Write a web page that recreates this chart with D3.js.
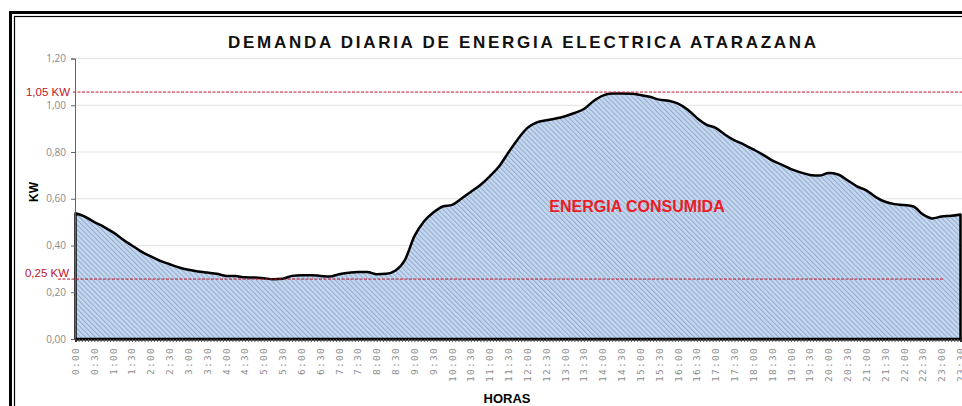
<!DOCTYPE html>
<html>
<head>
<meta charset="utf-8">
<script src="https://cdn.jsdelivr.net/npm/d3@7"></script>
<style>
  body { margin: 0; background: #fff; }
  svg { display: block; font-family: "Liberation Sans", Arial, sans-serif; }
</style>
</head>
<body>
<svg width="962" height="406"></svg>
<script>
// demanda cada 15 minutos, 0:00 -> 23:30 (kW)
const demand = [
    0.538, 0.524, 0.500, 0.480, 0.456, 0.427, 0.400, 0.374,
    0.353, 0.334, 0.320, 0.306, 0.296, 0.289, 0.284, 0.279,
    0.270, 0.269, 0.264, 0.263, 0.260, 0.256, 0.258, 0.270,
    0.273, 0.273, 0.270, 0.267, 0.277, 0.283, 0.287, 0.287,
    0.277, 0.279, 0.293, 0.339, 0.440, 0.503, 0.541, 0.567,
    0.574, 0.601, 0.630, 0.659, 0.696, 0.739, 0.799, 0.856,
    0.903, 0.927, 0.936, 0.943, 0.953, 0.967, 0.984, 1.017,
    1.041, 1.050, 1.050, 1.049, 1.044, 1.036, 1.024, 1.019,
    1.007, 0.982, 0.946, 0.917, 0.903, 0.874, 0.850, 0.832,
    0.811, 0.789, 0.764, 0.746, 0.727, 0.713, 0.702, 0.699,
    0.710, 0.704, 0.679, 0.653, 0.636, 0.607, 0.587, 0.577,
    0.573, 0.567, 0.533, 0.516, 0.524, 0.527, 0.533
];
const stepMinutes = 15;

// etiquetas del eje x cada 30 min
const hourLabels = d3.range(0, 1411, 30);
const minorTicks = d3.range(0, 1411, 5);
const yTicks = [0, 0.2, 0.4, 0.6, 0.8, 1.0, 1.2];

const refLines = [
    { value: 1.05, label: "1,05 KW" },
    { value: 0.25, label: "0,25 KW" }
];

const title = "DEMANDA DIARIA DE ENERGIA ELECTRICA ATARAZANA";

const svg = d3.select("svg");

// marco doble
svg.append("rect")
    .attr("x", 10.5).attr("y", 12.5)
    .attr("width", 980).attr("height", 420)
    .attr("fill", "none").attr("stroke", "#000").attr("stroke-width", 3);
svg.append("rect")
    .attr("x", 14.5).attr("y", 16.5)
    .attr("width", 980).attr("height", 420)
    .attr("fill", "none").attr("stroke", "#000").attr("stroke-width", 1.2);

const x = d3.scaleLinear().domain([0, 1410]).range([75.5, 960.5]);
const y = d3.scaleLinear().domain([0, 1.2]).range([339, 58.5]);

// relleno rayado
const defs = svg.append("defs");
const pat = defs.append("pattern")
    .attr("id", "hatch")
    .attr("patternUnits", "userSpaceOnUse")
    .attr("width", 3.5).attr("height", 3.5)
    .attr("patternTransform", "rotate(-45)");
pat.append("rect").attr("width", 3.5).attr("height", 3.5).attr("fill", "#c6d8ee");
pat.append("rect").attr("width", 1.1).attr("height", 3.5).attr("fill", "#93aed3");

// grid
svg.append("g")
    .selectAll("line")
    .data(yTicks.filter(d => d > 0))
    .enter().append("line")
    .attr("x1", 75).attr("x2", 962)
    .attr("y1", d => y(d)).attr("y2", d => y(d))
    .attr("stroke", "#e4e4e4").attr("stroke-width", 1);

const area = d3.area()
    .x((d, i) => x(i * stepMinutes))
    .y0(y(0))
    .y1(d => y(d))
    .curve(d3.curveMonotoneX);

svg.append("path")
    .datum(demand)
    .attr("d", area)
    .attr("fill", "url(#hatch)")
    .attr("stroke", "#000")
    .attr("stroke-width", 2.5)
    .attr("stroke-linejoin", "round");

// lineas de referencia
const ref = svg.append("g").selectAll("g")
    .data(refLines)
    .enter().append("g");

ref.append("line")
    .attr("x1", d => d.value > 1 ? 73 : 58)
    .attr("x2", d => d.value > 1 ? 962 : 943)
    .attr("y1", d => y(d.value) - 1.5)
    .attr("y2", d => y(d.value) - 1.5)
    .attr("stroke", "#c0142a")
    .attr("stroke-width", 1)
    .attr("stroke-dasharray", "3,1.5");

ref.append("text")
    .attr("x", d => d.value > 1 ? 70 : 69)
    .attr("y", d => d.value > 1 ? y(d.value) + 2.5 : y(d.value) - 3.5)
    .attr("text-anchor", "end")
    .attr("font-size", 11.5)
    .attr("fill", "#c0142a")
    .text(d => d.label);

// eje y
const yAxis = svg.append("g")
    .attr("transform", "translate(75,0)")
    .call(d3.axisLeft(y).tickValues(yTicks).tickSize(4).tickFormat(d => d3.format(".2f")(d).replace(".", ",")));
yAxis.select(".domain").attr("stroke", "#666");
yAxis.selectAll(".tick line").attr("stroke", "#666");
yAxis.selectAll(".tick text")
    .attr("x", -9)
    .attr("font-size", 10)
    .attr("font-family", "'Open Sans', sans-serif")
    .attr("fill", "#8a8a8a");

// eje x: marcas cada 5 min
const xAxis = svg.append("g")
    .attr("transform", "translate(0,339)")
    .call(d3.axisBottom(x).tickValues(minorTicks).tickSize(3).tickFormat(""));
xAxis.select(".domain").attr("stroke", "#000").attr("stroke-width", 2);
xAxis.selectAll(".tick line").attr("stroke", "#555");

// etiquetas horas
svg.append("g")
    .selectAll("text")
    .data(hourLabels)
    .enter().append("text")
    .attr("transform", d => `translate(${x(d) + 3.5},347) rotate(-90)`)
    .attr("text-anchor", "end")
    .attr("font-size", 9.5)
    .attr("letter-spacing", 1.3)
    .attr("font-family", "'DejaVu Sans Mono', monospace")
    .attr("fill", "#8c8c8c")
    .text(d => `${Math.floor(d / 60)}:${d3.format("02")(d % 60)}`);

// titulos
svg.append("text")
    .attr("x", 228).attr("y", 48)
    .attr("textLength", 588)
    .attr("lengthAdjust", "spacing")
    .attr("font-size", 17)
    .attr("font-weight", "bold")
    .attr("fill", "#111")
    .text(title);

svg.append("text")
    .attr("transform", "translate(38,192) rotate(-90)")
    .attr("text-anchor", "middle")
    .attr("font-size", 12)
    .attr("font-weight", "bold")
    .text("KW");

svg.append("text")
    .attr("x", 507).attr("y", 403)
    .attr("text-anchor", "middle")
    .attr("font-size", 13)
    .attr("font-weight", "bold")
    .text("HORAS");

svg.append("text")
    .attr("x", 637).attr("y", 212)
    .attr("text-anchor", "middle")
    .attr("font-size", 16)
    .attr("font-weight", "bold")
    .attr("fill", "#ec1c24")
    .text("ENERGIA CONSUMIDA");
</script>
</body>
</html>
